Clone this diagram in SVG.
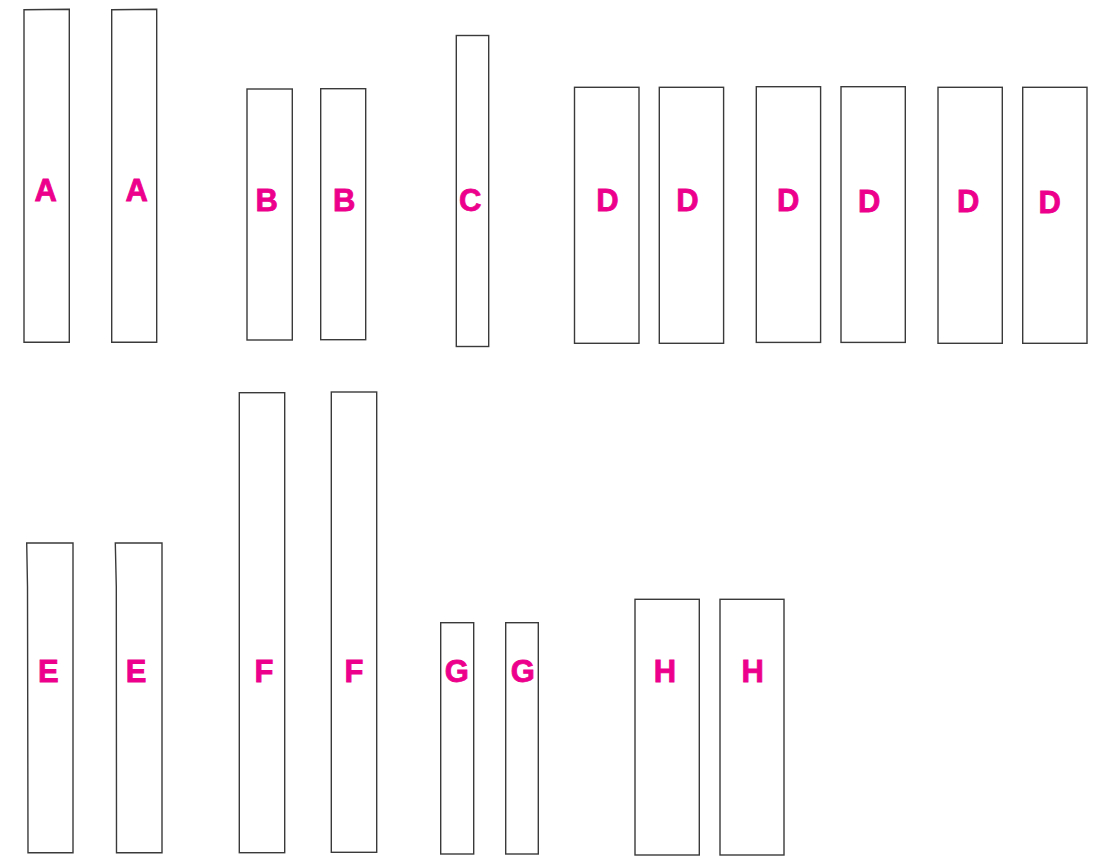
<svg xmlns="http://www.w3.org/2000/svg" width="1097" height="856" viewBox="0 0 1097 856">
<style>
.box{fill:#ffffff;stroke:#3a3a3a;stroke-width:1.4}
.lbl{fill:#EC008C;stroke:#EC008C;stroke-width:0.8;font-family:"Liberation Sans",Arial,sans-serif;font-weight:bold;font-size:31px;text-anchor:middle}
</style>
<rect width="1097" height="856" fill="#ffffff"/>
<g id="A1"><path class="box" d="M24,9.8 L69.3,9.3 L69.3,342.3 L24,342.3 Z"/><text class="lbl" x="45.7" y="201.3">A</text></g>
<g id="A2"><path class="box" d="M111.7,9.8 L156.7,9.3 L156.7,342.3 L111.7,342.3 Z"/><text class="lbl" x="136.7" y="201.3">A</text></g>
<g id="B1"><rect class="box" x="247" y="89" width="45.3" height="251"/><text class="lbl" x="266.7" y="210.5">B</text></g>
<g id="B2"><rect class="box" x="320.7" y="88.7" width="45" height="251"/><text class="lbl" x="344.3" y="210.5">B</text></g>
<g id="C"><rect class="box" x="456.3" y="35.5" width="32.4" height="311"/><text class="lbl" x="470.2" y="211">C</text></g>
<g id="D1"><rect class="box" x="574.5" y="87.3" width="64.5" height="256"/><text class="lbl" x="607.5" y="211">D</text></g>
<g id="D2"><rect class="box" x="659.3" y="87.3" width="64.3" height="256"/><text class="lbl" x="687.5" y="211">D</text></g>
<g id="D3"><rect class="box" x="756.3" y="86.7" width="64.3" height="255.7"/><text class="lbl" x="788.3" y="211">D</text></g>
<g id="D4"><rect class="box" x="841" y="86.7" width="64.3" height="255.7"/><text class="lbl" x="869.3" y="211.7">D</text></g>
<g id="D5"><rect class="box" x="938" y="87.3" width="64.3" height="256"/><text class="lbl" x="968.3" y="212">D</text></g>
<g id="D6"><rect class="box" x="1022.7" y="87.3" width="64.3" height="256"/><text class="lbl" x="1049.7" y="213">D</text></g>
<g id="E1"><path class="box" d="M26.7,543 L73,543 L73,852.7 L28,852.7 L27.5,587 Z"/><text class="lbl" x="48.3" y="682.3">E</text></g>
<g id="E2"><path class="box" d="M115.3,543 L162,543 L162,852.7 L116.5,852.7 L116.3,587 Z"/><text class="lbl" x="136" y="682.3">E</text></g>
<g id="F1"><rect class="box" x="239.3" y="392.7" width="45.4" height="460"/><text class="lbl" x="264" y="682.3">F</text></g>
<g id="F2"><rect class="box" x="331.3" y="392" width="45.4" height="460.3"/><text class="lbl" x="354" y="682.3">F</text></g>
<g id="G1"><rect class="box" x="440.7" y="622.7" width="33" height="231.3"/><text class="lbl" x="456.7" y="681.7">G</text></g>
<g id="G2"><rect class="box" x="505.7" y="622.7" width="32.6" height="231.3"/><text class="lbl" x="522.7" y="681.7">G</text></g>
<g id="H1"><rect class="box" x="635" y="599.3" width="64.3" height="255.7"/><text class="lbl" x="665" y="681.7">H</text></g>
<g id="H2"><rect class="box" x="720" y="599.3" width="64" height="255.7"/><text class="lbl" x="752.7" y="681.7">H</text></g>
<g id="connectors"></g>
</svg>
